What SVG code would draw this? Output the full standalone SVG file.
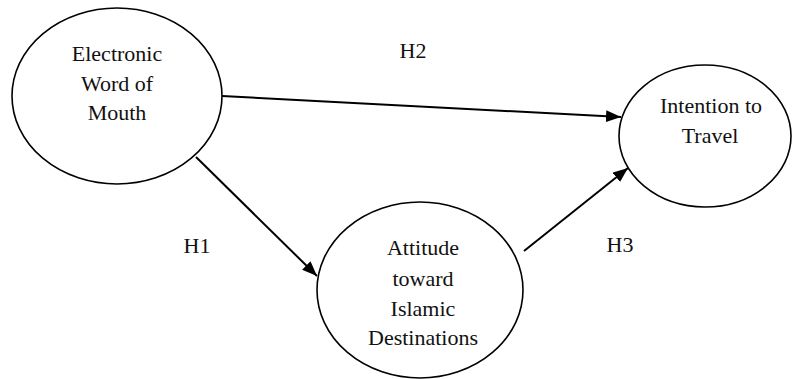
<svg xmlns="http://www.w3.org/2000/svg" width="794" height="379" viewBox="0 0 794 379">
<style>
.node ellipse{fill:#fff;stroke:#000;stroke-width:1.6}
text{font-family:'Liberation Serif','Times New Roman',Times,serif;font-size:22px;fill:#111;text-anchor:middle}
.conn line{stroke:#000;stroke-width:2;marker-end:url(#ah)}
</style>
<defs>
<marker id="ah" markerUnits="userSpaceOnUse" markerWidth="16" markerHeight="14" refX="15" refY="6" orient="auto">
<path d="M0,0 L15,6 L0,12 Z" fill="#000"/>
</marker>
</defs>
<g id="ewom" class="node">
<ellipse cx="117" cy="96" rx="105" ry="88"/>
<text x="117" y="61">Electronic</text>
<text x="117" y="91">Word of</text>
<text x="117" y="120">Mouth</text>
</g>
<g id="attitude" class="node">
<ellipse cx="420" cy="290" rx="103" ry="88"/>
<text x="423" y="255">Attitude</text>
<text x="423" y="286">toward</text>
<text x="423" y="316">Islamic</text>
<text x="423" y="345">Destinations</text>
</g>
<g id="intention" class="node">
<ellipse cx="705" cy="136" rx="86" ry="71"/>
<text x="711" y="113">Intention to</text>
<text x="710" y="143">Travel</text>
</g>
<g id="connectors" class="conn">
<line x1="222" y1="96" x2="621" y2="117"/>
<line x1="196" y1="157" x2="317" y2="276"/>
<line x1="524" y1="251" x2="628" y2="168"/>
</g>
<g id="labels">
<text x="413" y="58">H2</text>
<text x="197" y="253">H1</text>
<text x="620" y="252">H3</text>
</g>
</svg>
